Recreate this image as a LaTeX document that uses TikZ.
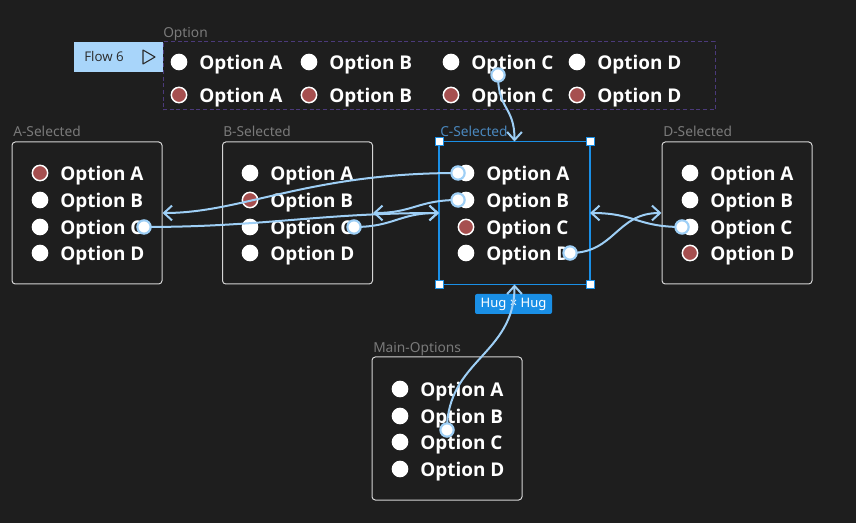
\documentclass[tikz,border=0pt]{standalone}
\usepackage{fontspec}
\setmainfont{Noto Sans}
\newfontfamily\optfont{Open Sans}
\usetikzlibrary{arrows.meta}
\definecolor{bg}{HTML}{1E1E1E}
\definecolor{selc}{HTML}{A64F4F}
\definecolor{connc}{HTML}{9ECFF6}
\definecolor{figblue}{HTML}{1A8FE6}
\definecolor{lblc}{HTML}{7A7A7A}
\definecolor{clbl}{HTML}{4A87BD}
\definecolor{framec}{HTML}{D4D4D4}
\definecolor{dashc}{HTML}{4B3A7A}
\definecolor{flowc}{HTML}{A8D5FA}
\definecolor{flowtxt}{HTML}{2A2A2A}
\tikzset{
  framebox/.style={draw=framec, line width=0.75pt, rounded corners=2.5pt, fill=bg,
    minimum width=112.5pt, minimum height=106.5pt, inner sep=0pt},
  lbl/.style={text=lblc, font=\fontsize{10.3}{12}\selectfont, inner sep=0pt, anchor=base west},
  radio/.style={circle, fill=white, inner sep=0pt, minimum size=12.5pt},
  radiosel/.style={circle, fill=selc, draw=white, line width=1.1pt, inner sep=0pt, minimum size=11.5pt},
  opttext/.style={text=white, font=\optfont\bfseries\fontsize{14.2}{16}\selectfont, inner sep=0pt, anchor=base west},
  connline/.style={draw=connc, line width=1.5pt},
  conntip/.style={connline, -{Straight Barb[length=6pt,width=11pt,line width=1.5pt]}},
  hot/.style={circle, fill=white, draw=connc, line width=1.6pt, inner sep=0pt, minimum size=10pt},
  handle/.style={rectangle, fill=white, draw=figblue, line width=0.75pt, inner sep=0pt, minimum size=6pt},
}
\newcommand\optitem[5]{%
  \node[#4] (r#5) at (#1,#2) {};
  \node[opttext] (t#5) at ({#1+20},{#2+7.4}) {#3};
}
\begin{document}
\begin{tikzpicture}[x=0.75pt,y=-0.75pt]
\fill[bg] (0,0) rectangle (856,523);
\useasboundingbox (0,0) rectangle (856,523);

% frames
\node[framebox] (Asel) at (87,213) {};
\node[framebox] (Bsel) at (297.5,213) {};
\node[framebox, draw=none, rounded corners=0pt] (Csel) at (514.5,213) {};
\draw[figblue, line width=1.3pt] (Csel.north west) rectangle (Csel.south east);
\node[framebox] (Dsel) at (737,213) {};
\node[framebox, minimum height=107.25pt] (Msel) at (447,428.5) {};
\node[draw=dashc, line width=0.75pt, dash pattern=on 3pt off 2pt, minimum width=414pt, minimum height=51pt, inner sep=0pt] (Otop) at (439,76) {};

% labels
\node[lbl] (lA) at (13,136.3) {A-Selected};
\node[lbl] (lB) at (223,136.3) {B-Selected};
\node[lbl, text=clbl] (lC) at (440,136.3) {C-Selected};
\node[lbl] (lD) at (663,136.3) {D-Selected};
\node[lbl] (lM) at (373,352.3) {Main-Options};
\node[lbl] (lO) at (163,37.3) {Option};

% A-Selected
\optitem{40}{173}{Option A}{radiosel}{A1}
\optitem{40}{200}{Option B}{radio}{A2}
\optitem{40}{227}{Option C}{radio}{A3}
\optitem{40}{253}{Option D}{radio}{A4}
% B-Selected
\optitem{250}{173}{Option A}{radio}{B1}
\optitem{250}{200}{Option B}{radiosel}{B2}
\optitem{250}{227}{Option C}{radio}{B3}
\optitem{250}{253}{Option D}{radio}{B4}
% C-Selected
\optitem{466}{173}{Option A}{radio}{C1}
\optitem{466}{200}{Option B}{radio}{C2}
\optitem{466}{227}{Option C}{radiosel}{C3}
\optitem{466}{253}{Option D}{radio}{C4}
% D-Selected
\optitem{690}{173}{Option A}{radio}{D1}
\optitem{690}{200}{Option B}{radio}{D2}
\optitem{690}{227}{Option C}{radio}{D3}
\optitem{690}{253}{Option D}{radiosel}{D4}
% Main-Options
\optitem{400}{389}{Option A}{radio}{M1}
\optitem{400}{416}{Option B}{radio}{M2}
\optitem{400}{442}{Option C}{radio}{M3}
\optitem{400}{469}{Option D}{radio}{M4}
% Option component (top)
\optitem{179}{62}{Option A}{radio}{O1}
\optitem{309}{62}{Option B}{radio}{O2}
\optitem{451}{62}{Option C}{radio}{O3}
\optitem{577}{62}{Option D}{radio}{O4}
\optitem{179}{95}{Option A}{radiosel}{O5}
\optitem{309}{95}{Option B}{radiosel}{O6}
\optitem{451}{95}{Option C}{radiosel}{O7}
\optitem{577}{95}{Option D}{radiosel}{O8}

% Flow badge
\node[fill=flowc, minimum width=66.75pt, minimum height=22.5pt, inner sep=0pt] (flow) at (118.5,57) {};
\node[text=flowtxt, font=\optfont\fontsize{10}{12}\selectfont, inner sep=0pt, anchor=base west] (flowt) at (84,61.5) {Flow 6};
\draw[flowtxt, line width=0.8pt, line join=round] (143,50) -- (143,64) -- (155,57) -- cycle;

% Hug badge
\node[fill=figblue, rounded corners=1.5pt, minimum width=57.75pt, minimum height=15pt, inner sep=0pt,
      text=white, font=\fontsize{9.8}{11}\selectfont] (hug) at (513.5,304) {Hug × Hug};

% hotspot coordinates
\coordinate (pCA) at (458,173);
\coordinate (pCB) at (458,200);
\coordinate (pCD) at (570,253);
\coordinate (pAC) at (144,227);
\coordinate (pBC) at (354,227);
\coordinate (pDC) at (682,227);
\coordinate (pOC) at (498,75);
\coordinate (pMC) at (447,430);

% connectors
\draw[conntip] (pCA) .. controls +(-150,0) and +(80,0) .. (Asel.east);
\draw[conntip] (pCB) .. controls +(-40,0) and +(40,0) .. (Bsel.east);
\draw[conntip] (pAC) .. controls +(120,0) and +(-120,0) .. (Csel.west);
\draw[conntip] (pBC) .. controls +(40,0) and +(-40,0) .. (Csel.west);
\draw[conntip] (pCD) .. controls +(45,0) and +(-45,0) .. (Dsel.west);
\draw[conntip] (pDC) .. controls +(-45,0) and +(45,0) .. (Csel.east);
\draw[conntip] (pOC) .. controls +(0,35) and +(0,-35) .. (Csel.north);
\draw[conntip] (pMC) .. controls +(0,-70) and +(0,70) .. (Csel.south);

% hotspot dots
\foreach \p in {pCA,pCB,pCD,pAC,pBC,pDC,pOC,pMC} \node[hot] (h\p) at (\p) {};

% selection handles
\node[handle] (hNW) at (Csel.north west) {};
\node[handle] (hNE) at (Csel.north east) {};
\node[handle] (hSW) at (Csel.south west) {};
\node[handle] (hSE) at (Csel.south east) {};
\end{tikzpicture}
\end{document}
